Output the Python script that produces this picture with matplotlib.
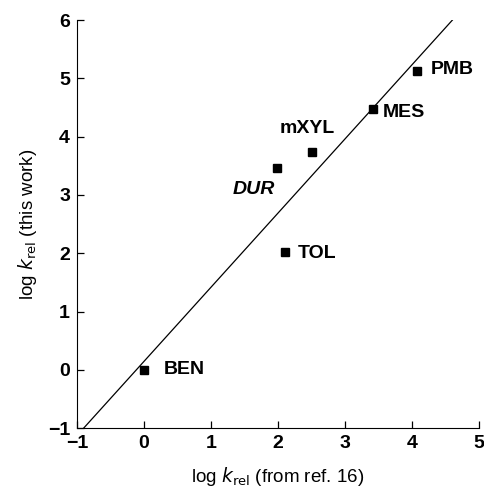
import matplotlib.pyplot as plt

# compounds and log k_rel values
names = ['BEN', 'TOL', 'DUR', 'mXYL', 'MES', 'PMB']
log_k_ref = [0.0, 2.1, 1.98, 2.5, 3.42, 4.07]
log_k_this = [0.0, 2.02, 3.46, 3.74, 4.47, 5.13]

# correlation line end points
fit_x = [-0.9, 4.6]
fit_y = [-1.0, 6.0]

# label offsets (points) and alignment per compound
label_pos = {
    'BEN': (14, 0, 'left', 'center'),
    'TOL': (9, -1, 'left', 'center'),
    'DUR': (-1, -15, 'right', 'center'),
    'mXYL': (-3, 17, 'center', 'center'),
    'MES': (7, -2, 'left', 'center'),
    'PMB': (10, 1, 'left', 'center'),
}

plt.rcParams['font.family'] = ['Liberation Sans', 'DejaVu Sans']

fig = plt.figure(figsize=(4.84, 4.91), dpi=100)
ax = fig.add_axes([0.159, 0.128, 0.831, 0.831])

ax.plot(fit_x, fit_y, color='black', lw=0.9)
ax.plot(log_k_ref, log_k_this, 's', color='black', markersize=6)

for n, xv, yv in zip(names, log_k_ref, log_k_this):
    dx, dy, ha, va = label_pos[n]
    ax.annotate(n, (xv, yv), xytext=(dx, dy), textcoords='offset points',
                ha=ha, va=va, fontsize=14, fontweight='bold',
                style='italic' if n == 'DUR' else 'normal')

ax.set_xlim(-1, 5)
ax.set_ylim(-1, 6)
ax.set_xticks(range(-1, 6))
ax.set_yticks(range(-1, 7))
ax.spines['top'].set_visible(False)
ax.spines['right'].set_visible(False)
ax.tick_params(direction='in', length=5, labelsize=14, width=0.9, pad=5)
for lab in ax.get_xticklabels() + ax.get_yticklabels():
    lab.set_fontweight('bold')

ax.set_xlabel(r'log $k_{\mathrm{rel}}$ (from ref. 16)', fontsize=13.5, labelpad=9)
ax.set_ylabel(r'log $k_{\mathrm{rel}}$ (this work)', fontsize=13.5, labelpad=6)

fig.savefig('out.png', dpi=100)
